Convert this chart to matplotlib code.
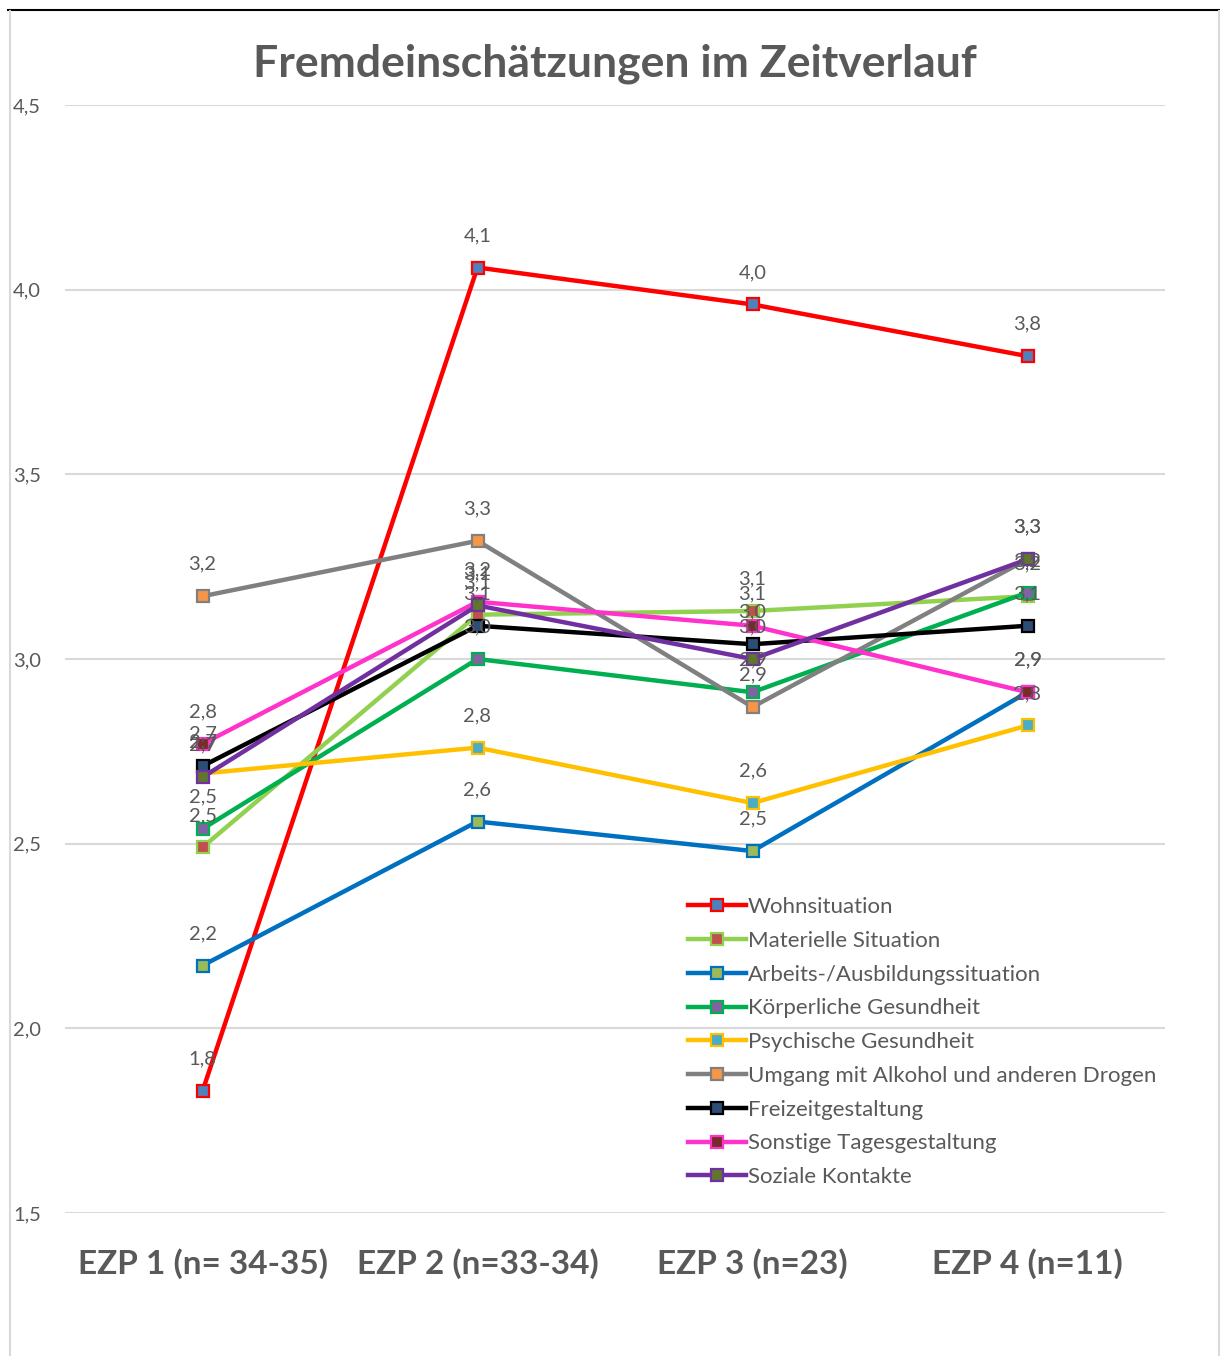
import matplotlib.pyplot as plt
from matplotlib.lines import Line2D

plt.rcParams['font.family'] = ['Lato', 'DejaVu Sans']

categories = ['EZP 1 (n= 34-35)', 'EZP 2 (n=33-34)', 'EZP 3 (n=23)', 'EZP 4 (n=11)']
series_names = ['Wohnsituation', 'Materielle Situation', 'Arbeits-/Ausbildungssituation',
                'Körperliche Gesundheit', 'Psychische Gesundheit',
                'Umgang mit Alkohol und anderen Drogen', 'Freizeitgestaltung',
                'Sonstige Tagesgestaltung', 'Soziale Kontakte']
wohn = [1.83, 4.06, 3.96, 3.82]
materiell = [2.49, 3.12, 3.13, 3.17]
arbeit = [2.17, 2.56, 2.48, 2.91]
koerper = [2.54, 3.00, 2.91, 3.18]
psych = [2.69, 2.76, 2.61, 2.82]
umgang = [3.17, 3.32, 2.87, 3.27]
freizeit = [2.71, 3.09, 3.04, 3.09]
sonstige = [2.77, 3.155, 3.09, 2.91]
sozial = [2.68, 3.145, 3.00, 3.27]
all_values = [wohn, materiell, arbeit, koerper, psych, umgang, freizeit, sonstige, sozial]

line_colors = ['#FF0000', '#92D050', '#0070C0', '#00B050', '#FFC000',
               '#808080', '#000000', '#FF33CC', '#7030A0']
face_colors = ['#4F81BD', '#C0504D', '#9BBB59', '#8064A2', '#4BACC6',
               '#F79646', '#2C4D75', '#772C2A', '#5F7530']

grey = '#595959'

fig = plt.figure(figsize=(12.2, 13.56), dpi=100)
ax = fig.add_axes([65 / 1220, 1 - 1213 / 1356, 1100 / 1220, 1108 / 1356])

x = list(range(len(categories)))
handles = []
for name, vals, lc, fc in zip(series_names, all_values, line_colors, face_colors):
    h, = ax.plot(x, vals, color=lc, lw=3.2, marker='s', markersize=9,
                 markerfacecolor=fc, markeredgecolor=lc, markeredgewidth=1.6,
                 solid_joinstyle='round', label=name)
    handles.append(h)
    for xi, v in zip(x, vals):
        ax.annotate(f'{round(v + 1e-9, 1):.1f}'.replace('.', ','), (xi, v), xytext=(0, 23),
                    textcoords='offset points', ha='center', va='center',
                    fontsize=14.5, color=grey)

ax.set_xlim(-0.5, 3.5)
ax.set_ylim(1.5, 4.5)
ax.set_yticks([1.5, 2.0, 2.5, 3.0, 3.5, 4.0, 4.5])
ax.set_yticklabels(['1,5', '2,0', '2,5', '3,0', '3,5', '4,0', '4,5'])
ax.set_xticks(x)
ax.set_xticklabels(categories, fontsize=24, fontweight='bold', color=grey)
ax.tick_params(axis='x', length=0, pad=25)
ax.tick_params(axis='y', length=0, labelsize=14.5, labelcolor=grey, pad=37.5)
for lbl in ax.get_yticklabels():
    lbl.set_horizontalalignment('left')
ax.grid(axis='y', color='#D9D9D9', lw=1.5)
ax.set_axisbelow(True)
for s in ax.spines.values():
    s.set_visible(False)

fig.text(615 / 1220, 1 - 64 / 1356, 'Fremdeinschätzungen im Zeitverlauf',
         ha='center', va='center', fontsize=32, fontweight='bold', color=grey)

fig.legend(handles=handles, loc='upper left', bbox_to_anchor=(688 / 1220, 1 - 897 / 1356),
           frameon=False, fontsize=16, labelcolor=grey, handlelength=2.6,
           handletextpad=0.1, labelspacing=0.62, borderaxespad=0, borderpad=0)

# chart border
fig.add_artist(Line2D([8 / 1220, 1], [1 - 10 / 1356] * 2, color='black', lw=1.5))
fig.add_artist(Line2D([9.5 / 1220] * 2, [0, 1 - 11 / 1356], color='#D9D9D9', lw=1.5))
fig.add_artist(Line2D([1218.5 / 1220] * 2, [0, 1 - 11 / 1356], color='#D9D9D9', lw=1.5))

fig.savefig('out.png', dpi=100)
